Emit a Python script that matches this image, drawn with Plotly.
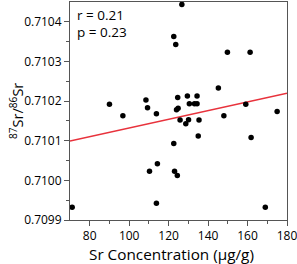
import numpy as np
import plotly.graph_objects as go

sr_conc = [71.1, 90.0, 96.8, 108.5, 109.3, 113.8, 110.3, 114.3, 113.8, 122.6,
           123.6, 126.7, 122.6, 123.0, 124.4, 124.6, 124.0, 124.8, 125.8, 128.7,
           129.5, 130.1, 130.5, 133.1, 134.4, 134.4, 135.4, 135.0, 145.2, 148.0,
           149.8, 159.1, 161.3, 161.8, 169.0, 175.0]
sr_ratio = [0.709932, 0.710192, 0.710163, 0.710203, 0.710183, 0.710168, 0.710023,
            0.710042, 0.709942, 0.710363, 0.710343, 0.710444, 0.710093, 0.710023,
            0.710012, 0.710209, 0.710178, 0.710182, 0.710152, 0.710143, 0.710213,
            0.710153, 0.710193, 0.710193, 0.710193, 0.710213, 0.710152, 0.710112,
            0.710233, 0.710163, 0.710323, 0.710192, 0.710323, 0.710108, 0.709932,
            0.710174]

# fitted line
fit_x = [70, 180]
fit_y = [0.710099, 0.710220]

x_ticks = [80, 100, 120, 140, 160, 180]
y_ticks = [0.7099, 0.7100, 0.7101, 0.7102, 0.7103, 0.7104]
stats_text = ["r = 0.21", "p = 0.23"]
x_title = "Sr Concentration (μg/g)"
y_title = "<sup>87</sup>Sr/<sup>86</sup>Sr"

font = "Open Sans"
axcol = "#555555"

fig = go.Figure()
fig.add_trace(go.Scatter(x=fit_x, y=fit_y, mode="lines",
                         line=dict(color="#e8323c", width=1.5), hoverinfo="skip"))
fig.add_trace(go.Scatter(x=sr_conc, y=sr_ratio, mode="markers",
                         marker=dict(color="black", size=5.5)))

fig.update_layout(
    width=297, height=264,
    margin=dict(l=70, r=10, t=2, b=44),
    paper_bgcolor="white", plot_bgcolor="white",
    showlegend=False,
    font=dict(family=font, size=12, color="black"),
    xaxis=dict(range=[70, 180], tickmode="array", tickvals=x_ticks,
               ticktext=[str(v) for v in x_ticks], tickangle=0,
               ticklabeloverflow="allow",
               ticks="outside", ticklen=5, tickwidth=1, tickcolor=axcol,
               showline=True, linecolor=axcol, linewidth=1, mirror=True,
               showgrid=False, zeroline=False,
               minor=dict(tickmode="array", tickvals=[90, 110, 130, 150, 170],
                          ticks="outside", ticklen=3, tickcolor=axcol, showgrid=False),
               tickfont=dict(size=12), automargin=False),
    yaxis=dict(range=[0.7099, 0.71045], tickmode="array", tickvals=y_ticks,
               ticktext=[f"{v:.4f}" for v in y_ticks],
               ticklabeloverflow="allow",
               ticks="outside", ticklen=5, tickwidth=1, tickcolor=axcol,
               showline=True, linecolor=axcol, linewidth=1, mirror=True,
               showgrid=False, zeroline=False,
               minor=dict(tickmode="array",
                          tickvals=[0.70995, 0.71005, 0.71015, 0.71025, 0.71035],
                          ticks="outside", ticklen=3, tickcolor=axcol, showgrid=False),
               tickfont=dict(size=12), automargin=False),
)

fig.add_annotation(xref="paper", yref="paper", x=-54/217, y=(220 - 111) / 218,
                   text=y_title, textangle=-90,
                   showarrow=False, xanchor="center", yanchor="middle",
                   font=dict(size=14.5))
fig.add_annotation(xref="paper", yref="paper", x=(171 - 70) / 217, y=-(254 - 220) / 218,
                   text=x_title, showarrow=False, xanchor="center", yanchor="middle",
                   font=dict(size=15.3))
for i, t in enumerate(stats_text):
    fig.add_annotation(xref="paper", yref="paper", x=5/217, y=1 - (13 + 17 * i) / 218,
                       text=t, showarrow=False, xanchor="left", yanchor="middle",
                       font=dict(size=13.5))

fig.write_html("out.html", config={"displayModeBar": False},
               post_script="document.body.style.margin='0';document.body.style.overflow='hidden';")
